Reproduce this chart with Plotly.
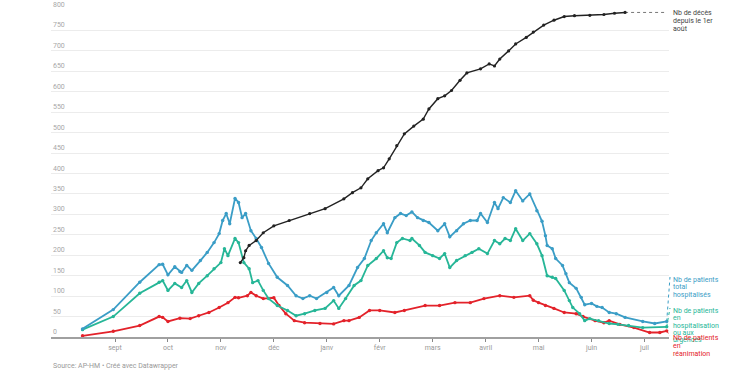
import calendar
from datetime import date
import plotly.graph_objects as go

# ---------------- data ----------------
month_labels = ["sept", "oct", "nov", "déc", "janv", "févr", "mars", "avril", "mai", "juin", "juil"]
y_ticks = [0, 50, 100, 150, 200, 250, 300, 350, 400, 450, 500, 550, 600, 650, 700, 750, 800]

total_dates = ["2020-08-13", "2020-08-31", "2020-09-15", "2020-09-26", "2020-09-28", "2020-10-01", "2020-10-05",
               "2020-10-08", "2020-10-09", "2020-10-12", "2020-10-15", "2020-10-20", "2020-10-24", "2020-10-28",
               "2020-10-31", "2020-11-02", "2020-11-04", "2020-11-06", "2020-11-09", "2020-11-11", "2020-11-13",
               "2020-11-15", "2020-11-18", "2020-11-21", "2020-11-24", "2020-11-28", "2020-12-03", "2020-12-09",
               "2020-12-14", "2020-12-18", "2020-12-22", "2020-12-26", "2021-01-01", "2021-01-05", "2021-01-08",
               "2021-01-14", "2021-01-19", "2021-01-23", "2021-01-27", "2021-01-30", "2021-02-03", "2021-02-05",
               "2021-02-09", "2021-02-12", "2021-02-15", "2021-02-18", "2021-02-21", "2021-02-24", "2021-02-27",
               "2021-03-04", "2021-03-08", "2021-03-11", "2021-03-15", "2021-03-19", "2021-03-23", "2021-03-27",
               "2021-03-29", "2021-04-02", "2021-04-06", "2021-04-08", "2021-04-11", "2021-04-15", "2021-04-18",
               "2021-04-22", "2021-04-26", "2021-04-30", "2021-05-03", "2021-05-05", "2021-05-06", "2021-05-09",
               "2021-05-11", "2021-05-15", "2021-05-17", "2021-05-19", "2021-05-23", "2021-05-26", "2021-05-28",
               "2021-06-01", "2021-06-04", "2021-06-07", "2021-06-11", "2021-06-15", "2021-06-20", "2021-06-30",
               "2021-07-07", "2021-07-14"]
total_vals = [20, 67, 134, 177, 178, 152, 172,
              160, 158, 175, 163, 187, 207, 231,
              253, 285, 302, 277, 339, 329, 292,
              302, 260, 241, 219, 180, 146, 126,
              101, 94, 101, 94, 109, 121, 101,
              126, 170, 192, 236, 255, 277, 255,
              292, 302, 297, 306, 292, 285, 280,
              260, 277, 245, 260, 277, 285, 285,
              302, 280, 329, 314, 341, 329, 358,
              333, 350, 309, 283, 248, 224, 216,
              192, 175, 155, 133, 119, 97, 79,
              82, 75, 72, 60, 57, 48, 38,
              33, 38]

hosp_dates = ["2020-08-13", "2020-08-31", "2020-09-15", "2020-09-26", "2020-09-28", "2020-10-01", "2020-10-05",
              "2020-10-09", "2020-10-12", "2020-10-15", "2020-10-19", "2020-10-24", "2020-10-28", "2020-11-01",
              "2020-11-03", "2020-11-05", "2020-11-09", "2020-11-11", "2020-11-14", "2020-11-17", "2020-11-19",
              "2020-11-22", "2020-11-25", "2020-11-28", "2020-12-03", "2020-12-09", "2020-12-14", "2020-12-19",
              "2020-12-25", "2020-12-31", "2021-01-05", "2021-01-08", "2021-01-12", "2021-01-17", "2021-01-21",
              "2021-01-25", "2021-01-30", "2021-02-03", "2021-02-05", "2021-02-07", "2021-02-10", "2021-02-13",
              "2021-02-17", "2021-02-18", "2021-02-22", "2021-02-25", "2021-03-01", "2021-03-05", "2021-03-08",
              "2021-03-11", "2021-03-15", "2021-03-20", "2021-03-24", "2021-03-28", "2021-04-02", "2021-04-06",
              "2021-04-09", "2021-04-12", "2021-04-15", "2021-04-18", "2021-04-22", "2021-04-26", "2021-04-30",
              "2021-05-03", "2021-05-06", "2021-05-09", "2021-05-11", "2021-05-16", "2021-05-19", "2021-05-21",
              "2021-05-25", "2021-05-28", "2021-05-31", "2021-06-05", "2021-06-11", "2021-06-16", "2021-06-22",
              "2021-06-30", "2021-07-14"]
hosp_vals = [18, 50, 107, 134, 138, 114, 131,
             121, 138, 109, 131, 150, 167, 182,
             216, 199, 241, 231, 182, 167, 133,
             138, 114, 94, 77, 65, 52, 57,
             65, 70, 89, 70, 94, 126, 138,
             175, 192, 211, 194, 192, 231, 241,
             236, 241, 224, 207, 199, 192, 204,
             170, 187, 199, 207, 216, 204, 236,
             228, 241, 236, 265, 236, 253, 228,
             199, 150, 146, 143, 114, 89, 72,
             57, 40, 45, 40, 33, 31, 28,
             23, 25]

rea_dates = ["2020-08-13", "2020-08-31", "2020-09-15", "2020-09-26", "2020-09-28", "2020-10-01", "2020-10-08",
             "2020-10-14", "2020-10-19", "2020-10-25", "2020-10-31", "2020-11-05", "2020-11-09", "2020-11-11",
             "2020-11-16", "2020-11-18", "2020-11-21", "2020-11-25", "2020-12-01", "2020-12-04", "2020-12-08",
             "2020-12-13", "2020-12-19", "2020-12-28", "2021-01-05", "2021-01-11", "2021-01-14", "2021-01-20",
             "2021-01-26", "2021-02-01", "2021-02-09", "2021-02-14", "2021-02-25", "2021-03-05", "2021-03-14",
             "2021-03-23", "2021-03-31", "2021-04-09", "2021-04-17", "2021-04-26", "2021-04-28", "2021-05-01",
             "2021-05-05", "2021-05-10", "2021-05-16", "2021-05-23", "2021-05-27", "2021-06-03", "2021-06-08",
             "2021-06-11", "2021-06-17", "2021-06-25", "2021-07-04", "2021-07-10", "2021-07-14"]
rea_vals = [3, 14, 28, 50, 48, 38, 46,
            45, 52, 60, 72, 84, 97, 96,
            101, 109, 101, 94, 96, 77, 57,
            40, 35, 33, 32, 40, 40, 48,
            65, 65, 60, 65, 77, 77, 84,
            84, 94, 101, 97, 101, 90, 84,
            77, 70, 60, 57, 50, 40, 35,
            40, 31, 23, 11, 11, 15]

deaths_dates = ["2020-11-12", "2020-11-14", "2020-11-15", "2020-11-17", "2020-11-21", "2020-11-25", "2020-12-01",
                "2020-12-10", "2020-12-22", "2020-12-31", "2021-01-11", "2021-01-16", "2021-01-21", "2021-01-25",
                "2021-01-31", "2021-02-03", "2021-02-06", "2021-02-10", "2021-02-14", "2021-02-19", "2021-02-24",
                "2021-02-27", "2021-03-04", "2021-03-08", "2021-03-12", "2021-03-17", "2021-03-21", "2021-03-29",
                "2021-04-03", "2021-04-06", "2021-04-09", "2021-04-14", "2021-04-18", "2021-04-24", "2021-04-28",
                "2021-05-04", "2021-05-10", "2021-05-16", "2021-05-22", "2021-05-31", "2021-06-08", "2021-06-14",
                "2021-06-20"]
deaths_vals = [182, 194, 211, 224, 236, 255, 272,
               285, 302, 314, 338, 353, 365, 387,
               407, 414, 436, 468, 497, 516, 533,
               558, 583, 590, 603, 628, 646, 656,
               668, 663, 680, 700, 717, 733, 746,
               763, 775, 784, 786, 787, 789, 792,
               794]
end_date = "2021-07-14"

labels_deaths = ["Nb de décès", "depuis le 1er", "août"]
labels_total = ["Nb de patients", "total", "hospitalisés"]
labels_hosp = ["Nb de patients", "en", "hospitalisation", "ou aux", "urgences"]
labels_rea = ["Nb de patients", "en", "réanimation"]

# ---------------- helpers ----------------
def mpos(d):
    dt = date.fromisoformat(d)
    months = (dt.year - 2020) * 12 + dt.month - 9
    dim = calendar.monthrange(dt.year, dt.month)[1]
    return months + (dt.day - 1) / dim

BLUE = "#3a9dc6"
GREEN = "#26b697"
RED = "#e3222a"
BLACK = "#222222"
FONT = "Roboto"

# layout geometry (pixels)
W, H = 750, 375
ML, MR, MT, MB = 51, 81, 10, 38
XMIN, XMAX = -1.2087, 10.4627
plot_w = W - ML - MR
plot_h = H - MT - MB

def px_to_paper_y(py):
    return (H - MB - py) / plot_h

def px_to_paper_x(px):
    return (px - ML) / plot_w

fig = go.Figure()

def add_series(dates, vals, color, width=1.8, msize=3.4):
    fig.add_trace(go.Scatter(
        x=[mpos(d) for d in dates], y=vals, mode="lines+markers",
        line=dict(color=color, width=width), marker=dict(color=color, size=msize),
        hoverinfo="skip", showlegend=False))

# black dotted extension
fig.add_trace(go.Scatter(
    x=[mpos(deaths_dates[-1]), mpos(end_date)], y=[deaths_vals[-1], deaths_vals[-1]],
    mode="lines", line=dict(color="#777777", width=1, dash="dot"),
    hoverinfo="skip", showlegend=False))

add_series(rea_dates, rea_vals, RED)
add_series(hosp_dates, hosp_vals, GREEN)
add_series(total_dates, total_vals, BLUE)
add_series(deaths_dates, deaths_vals, BLACK, width=1.4, msize=3.2)

annotations = []
# y tick labels above grid lines
for v in y_ticks:
    annotations.append(dict(
        x=0, xref="paper", y=v, yref="y", text=str(v), showarrow=False,
        xanchor="left", yanchor="bottom", yshift=-1,
        font=dict(family=FONT, size=7, color="#a8a8a8")))

label_x = px_to_paper_x(671)

def add_label(lines, color, py0, step):
    for i, t in enumerate(lines):
        annotations.append(dict(
            x=label_x, xref="paper", y=px_to_paper_y(py0 + i * step), yref="paper",
            text=t, showarrow=False, xanchor="left", yanchor="middle",
            font=dict(family=FONT, size=7, color=color)))

add_label(labels_deaths, "#444444", 12.7, 8)
add_label(labels_total, BLUE, 280, 7.4)
add_label(labels_hosp, GREEN, 310.7, 7.4)
add_label(labels_rea, RED, 337.7, 8.2)

annotations.append(dict(
    x=0, xref="paper", y=px_to_paper_y(366), yref="paper",
    text="Source: AP-HM • Créé avec Datawrapper", showarrow=False,
    xanchor="left", yanchor="middle", font=dict(family=FONT, size=7, color="#999999")))

# connectors from series ends to labels
def paper_x_of(d):
    return (mpos(d) - XMIN) / (XMAX - XMIN)

shapes = []
for dates, vals, color, py in [(total_dates, total_vals, BLUE, 277),
                               (hosp_dates, hosp_vals, GREEN, 308),
                               (rea_dates, rea_vals, RED, 336)]:
    shapes.append(dict(
        type="line", xref="paper", yref="paper",
        x0=paper_x_of(dates[-1]), y0=vals[-1] / 800,
        x1=px_to_paper_x(670), y1=px_to_paper_y(py),
        line=dict(color=color, width=1, dash="dot")))

fig.update_layout(
    width=W, height=H,
    margin=dict(l=ML, r=MR, t=MT, b=MB),
    paper_bgcolor="white", plot_bgcolor="white",
    font=dict(family=FONT, size=7, color="#999999"),
    xaxis=dict(
        range=[XMIN, XMAX], tickmode="array", tickvals=list(range(len(month_labels))),
        ticktext=month_labels, showgrid=False, zeroline=False,
        showline=True, linecolor="#a0a0a0", linewidth=1.5,
        ticks="outside", ticklen=3, tickwidth=1, tickcolor="#888888",
        tickfont=dict(family=FONT, size=7, color="#999999"), fixedrange=True),
    yaxis=dict(
        range=[0, 800], tickmode="array", tickvals=y_ticks, showticklabels=False,
        showgrid=True, gridcolor="#ececec", gridwidth=1, zeroline=False, fixedrange=True),
    annotations=annotations, shapes=shapes,
)

fig.write_html("out.html", config={"displayModeBar": False},
               post_script="document.body.style.margin='0px';document.body.style.padding='0px';")
